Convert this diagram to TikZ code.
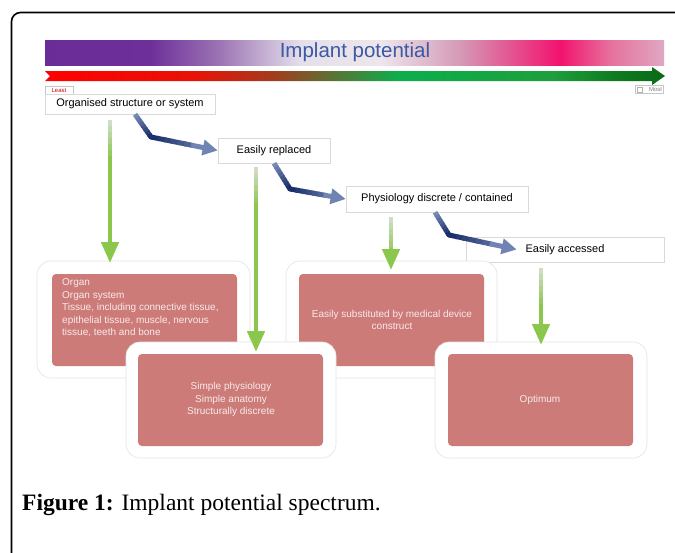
\documentclass[tikz,border=0pt]{standalone}
\usepackage{fontspec}
\setmainfont{Liberation Sans}
\newfontfamily\capfont{Liberation Serif}
\usetikzlibrary{arrows.meta,calc}

\definecolor{navyc}{HTML}{1B2F6B}
\definecolor{lightb}{HTML}{9DB0D8}
\definecolor{greenc}{HTML}{8AC74C}
\definecolor{greenl}{HTML}{D6DFD0}
\definecolor{pinkc}{HTML}{CD7B79}
\definecolor{ptext}{HTML}{F8EAEA}
\definecolor{titleblue}{HTML}{3A5AA4}
\definecolor{boxline}{HTML}{D9D9D9}
% title bar colours
\definecolor{ta}{HTML}{6A2D97}
\definecolor{tb}{HTML}{6D309A}
\definecolor{tc}{HTML}{9C74B4}
\definecolor{td}{HTML}{E4DFEA}
\definecolor{te}{HTML}{EEE6EC}
\definecolor{tf}{HTML}{D49AB6}
\definecolor{tg}{HTML}{F2126E}
\definecolor{th}{HTML}{E6709C}
\definecolor{ti}{HTML}{DFA8C2}
% spectrum colours
\definecolor{sa}{HTML}{FF0000}
\definecolor{sb}{HTML}{E81208}
\definecolor{sc}{HTML}{A8381C}
\definecolor{sd}{HTML}{5E7034}
\definecolor{se}{HTML}{0CAE4C}
\definecolor{sf}{HTML}{1E9E3C}
\definecolor{sg}{HTML}{0E7A20}
\definecolor{sh}{HTML}{0A6A16}

\pgfdeclarehorizontalshading{titlebar}{100bp}{color(0bp)=(ta); color(25bp)=(ta); color(33.5bp)=(tb); color(39.1bp)=(tc); color(45.6bp)=(td); color(52.1bp)=(te); color(58.5bp)=(tf); color(66.6bp)=(tg); color(70.6bp)=(th); color(75bp)=(ti); color(100bp)=(ti)}
\pgfdeclarehorizontalshading{specbar}{100bp}{color(0bp)=(sa); color(25bp)=(sa); color(37bp)=(sb); color(43bp)=(sc); color(48bp)=(sd); color(53.5bp)=(se); color(66bp)=(sf); color(71bp)=(sg); color(75bp)=(sh); color(100bp)=(sh)}

\newcommand\blueconn[3]{%
  \foreach \i in {0,...,7}{%
    \pgfmathsetmacro\ta{\i/8}%
    \pgfmathsetmacro\tb{min((\i+1.3)/8,1)}%
    \pgfmathtruncatemacro\pc{30+\i*10}%
    \draw[blueline, draw=navyc!\pc!lightb] ($(#1)!\ta!(#2)$) -- ($(#1)!\tb!(#2)$);
  }%
  \fill[navyc] (#2) circle (2.5pt);
  \foreach \i in {0,...,5}{%
    \pgfmathsetmacro\ta{\i/10}%
    \pgfmathsetmacro\tb{(\i+1.3)/10}%
    \pgfmathtruncatemacro\pc{100-\i*8}%
    \draw[blueline, draw=navyc!\pc!lightb] ($(#2)!\ta!(#3)$) -- ($(#2)!\tb!(#3)$);
  }%
  \draw[blueline, draw=navyc!35!lightb, -{Triangle[length=15pt,width=15pt]}] ($(#2)!0.6!(#3)$) -- (#3);
}
\newcommand\greenconn[2]{%
  \foreach \d/\p in {0/10,6/25,12/40,18/55,24/70,30/85}{%
    \pgfmathsetmacro\e{\d+7}%
    \draw[greenline, draw=greenc!\p!greenl] ($(#1)!\d pt!(#2)$) -- ($(#1)!\e pt!(#2)$);
  }%
  \draw[greenline, -{Triangle[length=21pt,width=17pt]}] ($(#1)!36pt!(#2)$) -- (#2);
}

\begin{document}
\begin{tikzpicture}[x=1pt,y=-1pt,
  tbox/.style={draw=boxline, fill=white, line width=0.6pt, inner sep=0, font=\fontsize{11}{13}\selectfont},
  outerpanel/.style={draw=gray!22, fill=white, line width=0.6pt, rounded corners=14pt, inner sep=0},
  innerpanel/.style={fill=pinkc, rounded corners=4pt, inner sep=0},
  ptxt/.style={text=ptext, font=\fontsize{10}{12.5}\selectfont, inner sep=0},
  blueline/.style={line width=5pt},
  greenline/.style={line width=4.5pt, draw=greenc},
  tag/.style={draw=gray!45, fill=white, line width=0.4pt, inner sep=0, font=\fontsize{6}{6.5}\selectfont, minimum width=28, minimum height=8},
]
\useasboundingbox (0,0) rectangle (675,552);
\clip (0,0) rectangle (675,552);
\fill[white] (0,0) rectangle (675,552);
\draw[line width=1.6pt, rounded corners=9pt] (11.5,600) -- (11.5,12.5) -- (720,12.5);

% title bar
\shade[shading=titlebar] (45,40) rectangle (664,65);
\node[font=\fontsize{20.5}{24}\selectfont, text=titleblue, inner sep=0] (title) at (355,52.5) {Implant potential};

% spectrum arrow
\shade[shading=specbar] (45,71) -- (652,71) -- (652,67) -- (665,76) -- (652,85) -- (652,81) -- (45,81) -- (50,76) -- cycle;
\node[tag, text=red!80!black] (least) at (59,90.5) {Least};
\node[tag, text=gray, text width=26, align=right] (most) at (649,89.5) {Most};
\draw[gray!60, line width=0.4pt] (637,87) rectangle (642,92);

% criteria boxes
\node[tbox, minimum width=170, minimum height=20] (org) at (130,104) {Organised structure or system};
\node[tbox, minimum width=112, minimum height=25] (rep) at (274,150.5) {Easily replaced};
\node[tbox, minimum width=182, minimum height=26] (phys) at (437,199) {Physiology discrete / contained};
\node[tbox, minimum width=198, minimum height=25] (acc) at (565,249.5) {Easily accessed};

% panels
\node[outerpanel, minimum width=213, minimum height=117] (p1o) at (143.5,319.5) {};
\node[innerpanel, minimum width=185, minimum height=92] (p1) at (144.5,320) {};
\node[outerpanel, minimum width=211, minimum height=117] (p3o) at (391.5,319.5) {};
\node[innerpanel, minimum width=185, minimum height=92] (p3) at (391.5,320) {};
\node[outerpanel, minimum width=210, minimum height=116] (p2o) at (231,400) {};
\node[innerpanel, minimum width=185, minimum height=92] (p2) at (230.5,400) {};
\node[outerpanel, minimum width=212, minimum height=116] (p4o) at (541,400) {};
\node[innerpanel, minimum width=185, minimum height=92] (p4) at (540.5,400) {};

\node[ptxt, align=left, anchor=north west] (t1) at (62,278.5) {Organ\\Organ system\\Tissue, including connective tissue,\\epithelial tissue, muscle, nervous\\tissue, teeth and bone};
\node[ptxt, align=center] (t2) at (231,399.5) {Simple physiology\\Simple anatomy\\Structurally discrete};
\node[ptxt, align=center] (t3) at (392,320) {Easily substituted by medical device\\construct};
\node[ptxt] (t4) at (540,400) {Optimum};

% blue connectors
\coordinate (b1s) at ([xshift=5pt]org.south);
\coordinate (b1m) at (151,137);
\blueconn{b1s}{b1m}{rep.west}
\coordinate (b2s) at (rep.south);
\coordinate (b2m) at (290,189);
\blueconn{b2s}{b2m}{phys.west}
\coordinate (b3s) at ([xshift=-2pt]phys.south);
\coordinate (b3m) at (449,235);
\coordinate (b3t) at ([xshift=51pt]acc.west);
\blueconn{b3s}{b3m}{b3t}

% green connectors
\coordinate (g1s) at (110,120);
\coordinate (g1t) at (110,263);
\greenconn{g1s}{g1t}
\coordinate (g2s) at (256,167);
\coordinate (g2t) at (256,352);
\greenconn{g2s}{g2t}
\coordinate (g3s) at (391,217);
\coordinate (g3t) at (391,270);
\greenconn{g3s}{g3t}
\coordinate (g4s) at (541,268);
\coordinate (g4t) at (541,345);
\greenconn{g4s}{g4t}

% caption
\node[anchor=base west, inner sep=0, font=\capfont\fontsize{23.5}{26}\selectfont] (cap) at (22,510) {\textbf{Figure 1:} Implant potential spectrum.};
\end{tikzpicture}
\end{document}
